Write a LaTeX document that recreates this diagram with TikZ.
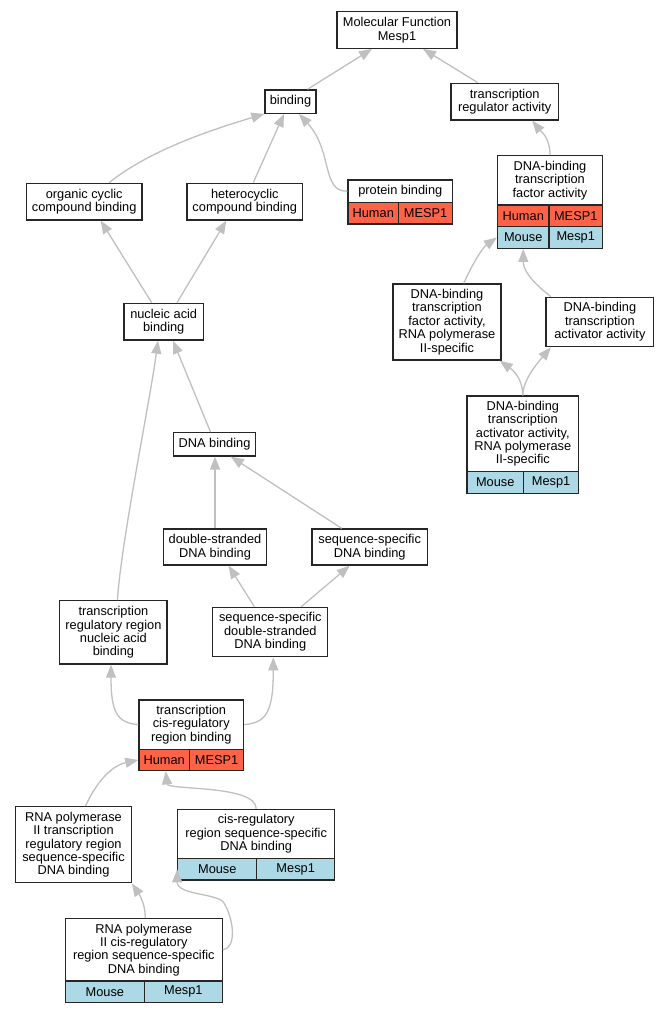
\documentclass[tikz,border=0pt]{standalone}
\usepackage{fontspec}
\setmainfont{Liberation Sans}
\usetikzlibrary{arrows.meta}
\definecolor{edgegray}{HTML}{C0C0C0}
\definecolor{human}{HTML}{FF6347}
\definecolor{mouse}{HTML}{ADD8E6}
\begin{document}
\begin{tikzpicture}[x=1pt,y=-1pt,
  box/.style={draw=black!85, line width=1.3pt, fill=white, inner sep=0pt, align=center, font=\fontsize{12.8}{13.4}\selectfont},
  hum/.style={box, fill=human},
  mou/.style={box, fill=mouse},
  edge/.style={draw=edgegray, line width=1.3pt, -{Triangle[length=13pt,width=10pt]}}]
\useasboundingbox[fill=white] (0,0) rectangle (667,1013);

% nodes
\node[box, minimum width=120, minimum height=36.5] (mf) at (397,30) {Molecular Function\\Mesp1};
\node[box, minimum width=51, minimum height=23.3] (binding) at (290.5,101.6) {binding};
\node[box, minimum width=107.5, minimum height=36.7] (tra) at (504.7,101.6) {transcription\\regulator activity};
\node[box, minimum width=115.4, minimum height=36.7] (occ) at (84.2,201.6) {organic cyclic\\compound binding};
\node[box, minimum width=115.6, minimum height=36.7] (hcc) at (244.8,201.6) {heterocyclic\\compound binding};

\node[box, minimum width=104.6, minimum height=22.3] (pb) at (400.3,191.15) {protein binding};
\node[hum, minimum width=50.5, minimum height=21.7] (pbH) at (373.25,213.15) {Human};
\node[hum, minimum width=54.1, minimum height=21.7] (pbM) at (425.55,213.15) {MESP1};

\node[box, minimum width=105, minimum height=49.3] (dtf) at (550,180.35) {DNA-binding\\transcription\\factor activity};
\node[hum, minimum width=51.5, minimum height=21.7] (dtfH) at (523.25,215.85) {Human};
\node[hum, minimum width=53.5, minimum height=21.7] (dtfHM) at (575.75,215.85) {MESP1};
\node[mou, minimum width=51.5, minimum height=21.6] (dtfM) at (523.25,237.5) {Mouse};
\node[mou, minimum width=53.5, minimum height=21.6] (dtfMM) at (575.75,237.5) {Mesp1};

\node[box, minimum width=79.4, minimum height=36.7] (nab) at (163.7,321.7) {nucleic acid\\binding};
\node[box, minimum width=108, minimum height=76] (dtf2) at (447,322) {DNA-binding\\transcription\\factor activity,\\RNA polymerase\\II-specific};
\node[box, minimum width=107.8, minimum height=49.4] (dta) at (599.9,322) {DNA-binding\\transcription\\activator activity};
\node[box, minimum width=82, minimum height=23.3] (db) at (214.5,444.3) {DNA binding};

\node[box, minimum width=111.6, minimum height=75.7] (dta2) at (522.8,433.85) {DNA-binding\\transcription\\activator activity,\\RNA polymerase\\II-specific};
\node[mou, minimum width=56.5, minimum height=21.6] (dta2M) at (495.25,482.5) {Mouse};
\node[mou, minimum width=55.1, minimum height=21.6] (dta2MM) at (551.05,482.5) {Mesp1};

\node[box, minimum width=103.5, minimum height=36] (ds) at (215,547) {double-stranded\\DNA binding};
\node[box, minimum width=115.4, minimum height=36] (ss) at (369.7,547) {sequence-specific\\DNA binding};
\node[box, minimum width=107.2, minimum height=63.3] (trr) at (113.4,632.4) {transcription\\regulatory region\\nucleic acid\\binding};
\node[box, minimum width=115, minimum height=49.4] (ssds) at (270.3,632) {sequence-specific\\double-stranded\\DNA binding};

\node[box, minimum width=104.7, minimum height=49.3] (tcr) at (191.25,724.65) {transcription\\cis-regulatory\\region binding};
\node[hum, minimum width=50.6, minimum height=21.4] (tcrH) at (164.2,760) {Human};
\node[hum, minimum width=54.1, minimum height=21.4] (tcrHM) at (216.55,760) {MESP1};

\node[box, minimum width=115.4, minimum height=76] (rtr) at (73.5,844.7) {RNA polymerase\\II transcription\\regulatory region\\sequence-specific\\DNA binding};

\node[box, minimum width=156.8, minimum height=49.4] (crs) at (256.2,834) {cis-regulatory\\region sequence-specific\\DNA binding};
\node[mou, minimum width=79, minimum height=21.3] (crsM) at (217.3,869.35) {Mouse};
\node[mou, minimum width=77.8, minimum height=21.3] (crsMM) at (295.7,869.35) {Mesp1};

\node[box, minimum width=156.8, minimum height=62.3] (rcr) at (143.8,949.85) {RNA polymerase\\II cis-regulatory\\region sequence-specific\\DNA binding};
\node[mou, minimum width=79, minimum height=21.3] (rcrM) at (104.9,991.65) {Mouse};
\node[mou, minimum width=77.8, minimum height=21.3] (rcrMM) at (183.3,991.65) {Mesp1};

\coordinate (k24) at (224,903);

% edges
\draw[edge] ([xshift=17pt]binding.north) -- ([xshift=-25pt]mf.south);
\draw[edge] ([xshift=-27pt]tra.north) -- ([xshift=26pt]mf.south);
\draw[edge] ([xshift=25pt]occ.north) .. controls +(41,-33) and +(-50,15) .. (binding.south west);
\draw[edge] ([xshift=8.5pt]hcc.north) -- ([xshift=-6.5pt]binding.south);
\draw[edge] (pb.west) .. controls +(-26,1) and +(34,37) .. ([xshift=8.5pt]binding.south);
\draw[edge] (dtf.north) .. controls +(0,-18) and +(8,10) .. ([xshift=27.5pt]tra.south);
\draw[edge] ([xshift=-12pt]nab.north) -- ([xshift=16.5pt]occ.south);
\draw[edge] ([xshift=13.3pt]nab.north) -- ([xshift=-18.5pt]hcc.south);
\draw[edge] ([xshift=16.7pt]dtf2.north) .. controls +(10,-22) and +(-14,10) .. (dtfM.west);
\draw[edge] ([xshift=-49pt]dta.north) .. controls +(-18,-14) and +(0,22) .. (dtfM.south);
\draw[edge] (dta2.north) .. controls +(0,-16) and +(14,10) .. ([xshift=-2pt]dtf2.south east);
\draw[edge] (dta2.north) .. controls +(0,-16) and +(-12,14) .. ([xshift=-49pt]dta.south);
\draw[edge] ([xshift=-4pt]db.north) -- ([xshift=9.3pt]nab.south);
\draw[edge] ([xshift=4pt]trr.north) .. controls +(4,-60) and +(-8,60) .. ([xshift=-5.7pt]nab.south);
\draw[edge] (ds.north) -- (ds.north |- db.south);
\draw[edge] ([xshift=-28pt]ss.north) -- ([xshift=16.3pt]db.south);
\draw[edge] ([xshift=-16pt]ssds.north) -- ([xshift=13.6pt]ds.south);
\draw[edge] ([xshift=31pt]ssds.north) -- ([xshift=-20pt]ss.south);
\draw[edge] (tcr.west) .. controls +(-21,-2) and +(0,48) .. ([xshift=-2.4pt]trr.south);
\draw[edge] (tcr.east) .. controls +(22,-2) and +(0,55) .. ([xshift=3pt]ssds.south);
\draw[edge] ([xshift=12pt]rtr.north) .. controls +(10,-22) and +(-28,6) .. (tcrH.west);
\draw[edge] (crs.north) .. controls +(0,-24) and +(2,19) .. ([xshift=1.5pt]tcrH.south);
\draw[edge] ([xshift=1.5pt]rcr.north) .. controls +(0,-14) and +(8,12) .. (rtr.south east);
\draw[edge] (rcr.east) .. controls +(14,-2) and +(10,17) .. (k24) .. controls +(-6,-10) and +(0,26) .. (crsM.west);
\end{tikzpicture}
\end{document}
